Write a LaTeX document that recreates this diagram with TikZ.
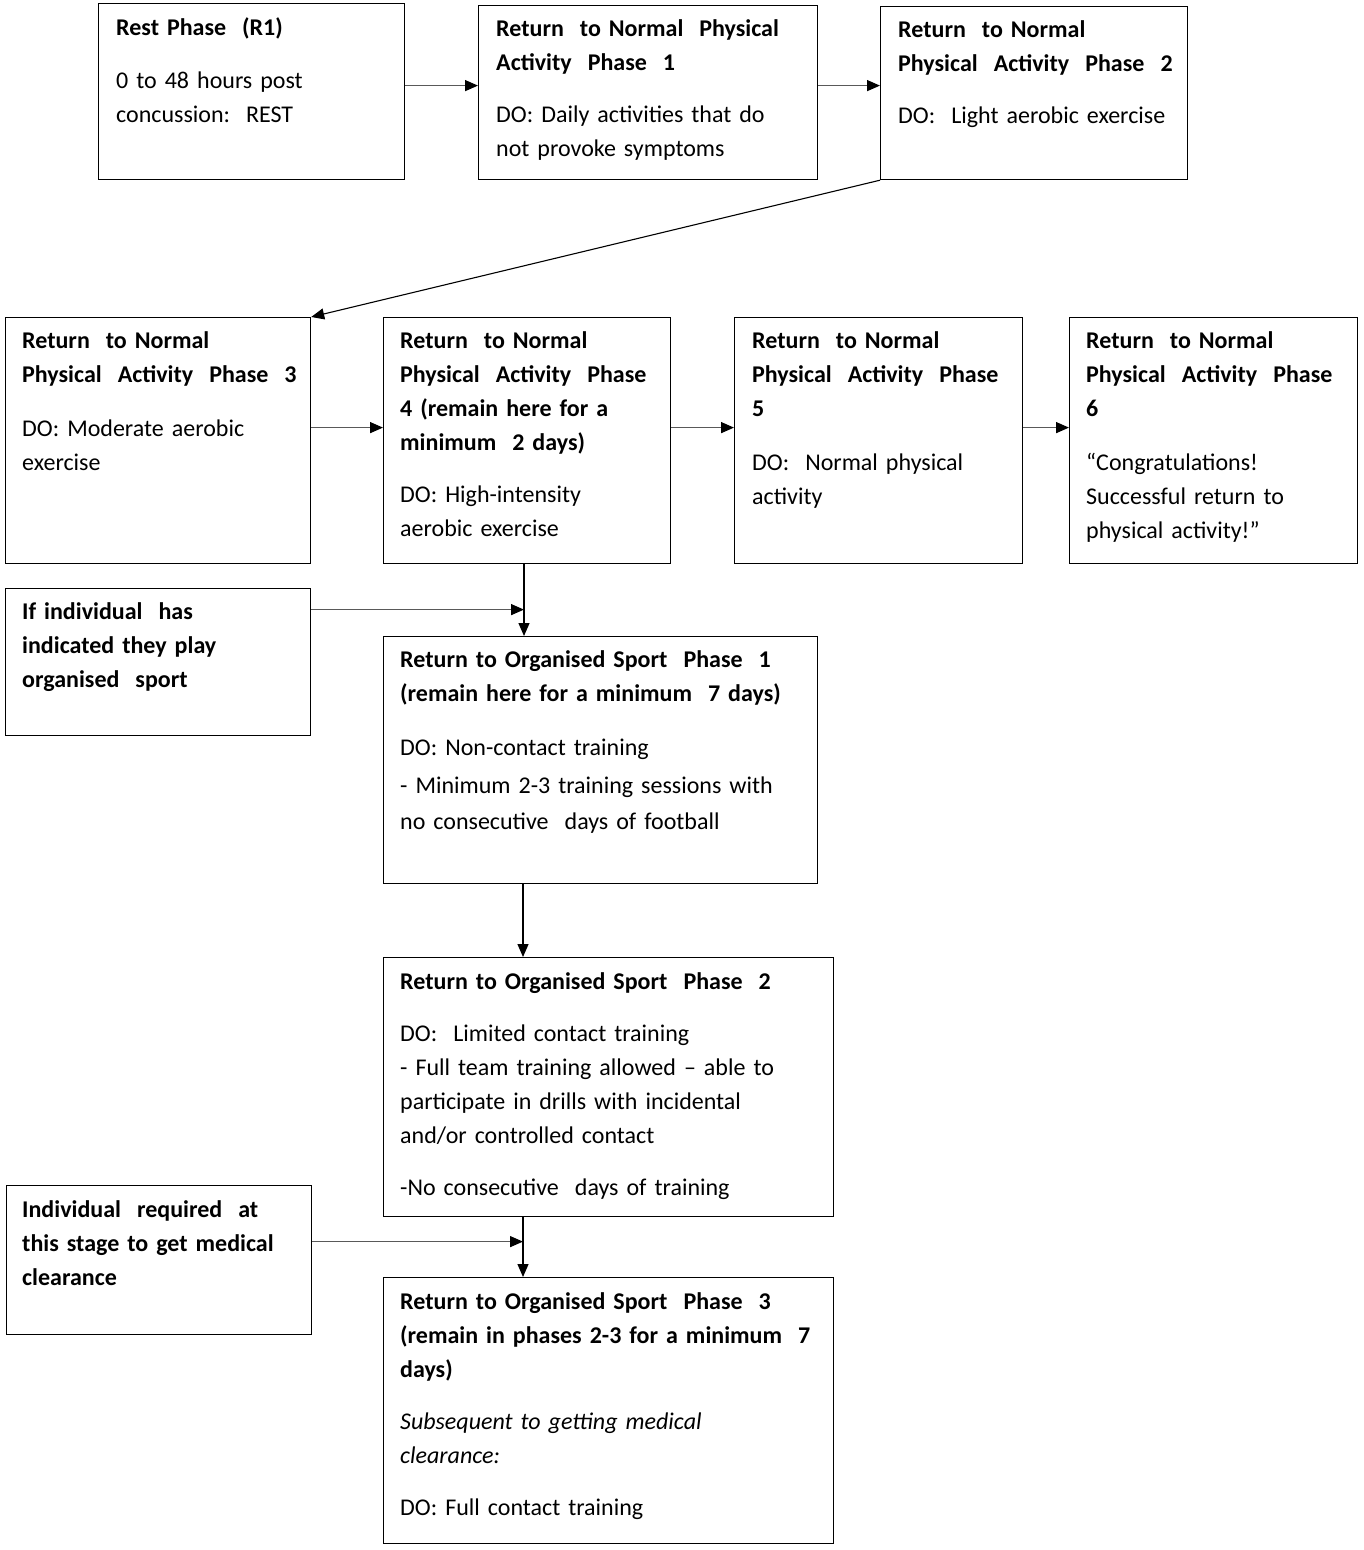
\documentclass[tikz,border=0pt]{standalone}
\usepackage{fontspec}
\setmainfont{Carlito}
\usetikzlibrary{arrows.meta}
\begin{document}
\begin{tikzpicture}[x=1pt,y=-1pt,
  box/.style={draw=black,line width=1.2pt,anchor=north west,inner sep=0pt},
  txt/.style={anchor=north west,inner sep=0pt,align=left,text width=#1,
    font=\fontsize{24}{34}\selectfont},
  txt/.default=440pt,
  conn/.style={draw=black!65,line width=1.4pt,-{Triangle[length=13pt,width=11pt,color=black]}},
  dconn/.style={draw=black,line width=1.1pt,-{Triangle[length=13pt,width=11pt,color=black]}},
  vconn/.style={draw=black,line width=1.2pt,-{Triangle[length=13pt,width=11pt,color=black]}}]
\useasboundingbox (0,0) rectangle (1364,1550);
\newcommand{\fl}{\rule{0pt}{16pt}}
% boxes
\node[box,minimum width=306pt,minimum height=176pt] (rest) at (98,3) {};
\node[box,minimum width=339pt,minimum height=174pt] (p1) at (478,5) {};
\node[box,minimum width=307pt,minimum height=173pt] (p2) at (880,6) {};
\node[box,minimum width=305pt,minimum height=246pt] (p3) at (5,317) {};
\node[box,minimum width=287pt,minimum height=246pt] (p4) at (383,317) {};
\node[box,minimum width=288pt,minimum height=246pt] (p5) at (734,317) {};
\node[box,minimum width=288pt,minimum height=246pt] (p6) at (1069,317) {};
\node[box,minimum width=305pt,minimum height=147pt] (ind) at (5,588) {};
\node[box,minimum width=434pt,minimum height=247pt] (r1) at (383,636) {};
\node[box,minimum width=450pt,minimum height=259pt] (r2) at (383,957) {};
\node[box,minimum width=305pt,minimum height=149pt] (req) at (6,1185) {};
\node[box,minimum width=450pt,minimum height=266pt] (r3) at (383,1277) {};
% texts
\node[txt] (trest) at ([xshift=18pt,yshift=-14pt]rest.north west) {\fl\textbf{Rest Phase\ \ (R1)}\\[19pt]0 to 48 hours\ post\\concussion:\ \ REST};
\node[txt] (tp1) at ([xshift=18pt,yshift=-14pt]p1.north west) {\fl\textbf{Return\ \ to Normal\ \ Physical}\\\textbf{Activity\ \ Phase\ \ 1}\\[18pt]DO:\ Daily activities\ that do\\not provoke\ symptoms};
\node[txt] (tp2) at ([xshift=18pt,yshift=-14pt]p2.north west) {\fl\textbf{Return\ \ to Normal}\\\textbf{Physical\ \ Activity\ \ Phase\ \ 2}\\[18pt]DO:\ \ Light aerobic\ exercise};
\node[txt] (tp3) at ([xshift=17pt,yshift=-14pt]p3.north west) {\fl\textbf{Return\ \ to Normal}\\\textbf{Physical\ \ Activity\ \ Phase\ \ 3}\\[20pt]DO:\ Moderate aerobic\\exercise};
\node[txt] (tp4) at ([xshift=17pt,yshift=-14pt]p4.north west) {\fl\textbf{Return\ \ to Normal}\\\textbf{Physical\ \ Activity\ \ Phase}\\\textbf{4 (remain\ here for a}\\\textbf{minimum\ \ 2 days)}\\[18pt]DO:\ High-intensity\\aerobic\ exercise};
\node[txt] (tp5) at ([xshift=18pt,yshift=-14pt]p5.north west) {\fl\textbf{Return\ \ to Normal}\\\textbf{Physical\ \ Activity\ \ Phase}\\\textbf{5}\\[20pt]DO:\ \ Normal\ physical\\activity};
\node[txt] (tp6) at ([xshift=17pt,yshift=-14pt]p6.north west) {\fl\textbf{Return\ \ to Normal}\\\textbf{Physical\ \ Activity\ \ Phase}\\\textbf{6}\\[20pt]“Congratulations!\\Successful\ return to\\physical\ activity!”};
\node[txt] (tind) at ([xshift=17pt,yshift=-14pt]ind.north west) {\fl\textbf{If individual\ \ has}\\\textbf{indicated\ they\ play}\\\textbf{organised\ \ sport}};
\node[txt] (tr1) at ([xshift=17pt,yshift=-14pt]r1.north west) {\fl\textbf{Return\ to Organised\ Sport\ \ Phase\ \ 1}\\\textbf{(remain\ here\ for a minimum\ \ 7 days)}\\[20pt]DO:\ Non-contact training\\[4pt]-\ Minimum 2-3 training sessions\ with\\[2pt]no consecutive\ \ days\ of football};
\node[txt] (tr2) at ([xshift=17pt,yshift=-15pt]r2.north west) {\fl\textbf{Return\ to Organised\ Sport\ \ Phase\ \ 2}\\[18pt]DO:\ \ Limited contact\ training\\-\ Full team training allowed – able to\\participate\ in drills with incidental\\and/or\ controlled\ contact\\[18pt]-No consecutive\ \ days\ of training};
\node[txt] (treq) at ([xshift=16pt,yshift=-15pt]req.north west) {\fl\textbf{Individual\ \ required\ \ at}\\\textbf{this\ stage\ to get medical}\\\textbf{clearance}};
\node[txt] (tr3) at ([xshift=17pt,yshift=-15pt]r3.north west) {\fl\textbf{Return\ to Organised\ Sport\ \ Phase\ \ 3}\\\textbf{(remain\ in\ phases\ 2-3 for a minimum\ \ 7}\\\textbf{days)}\\[18pt]\textit{Subsequent\ to getting medical}\\\textit{clearance:}\\[18pt]DO:\ Full contact\ training};
% connectors
\coordinate (vx) at (524,0);
\coordinate (vy) at (523,0);
\draw[conn] ([yshift=6pt]rest.east) -- ([yshift=6pt]rest.east -| p1.west);
\draw[conn] ([yshift=7pt]p1.east) -- ([yshift=7pt]p1.east -| p2.west);
\draw[dconn] (p2.south west) -- (p3.north east);
\draw[conn] ([yshift=13pt]p3.east) -- ([yshift=13pt]p3.east -| p4.west);
\draw[conn] ([yshift=13pt]p4.east) -- ([yshift=13pt]p4.east -| p5.west);
\draw[conn] ([yshift=13pt]p5.east) -- ([yshift=13pt]p5.east -| p6.west);
\draw[vconn] (p4.south -| vx) -- (r1.north -| vx);
\draw[conn] ([yshift=52.5pt]ind.east) -- ([yshift=52.5pt]ind.east -| vx);
\draw[vconn] (r1.south -| vy) -- (r2.north -| vy);
\draw[vconn] (r2.south -| vy) -- (r3.north -| vy);
\draw[conn] ([yshift=18.5pt]req.east) -- ([yshift=18.5pt]req.east -| vy);
\end{tikzpicture}
\end{document}
